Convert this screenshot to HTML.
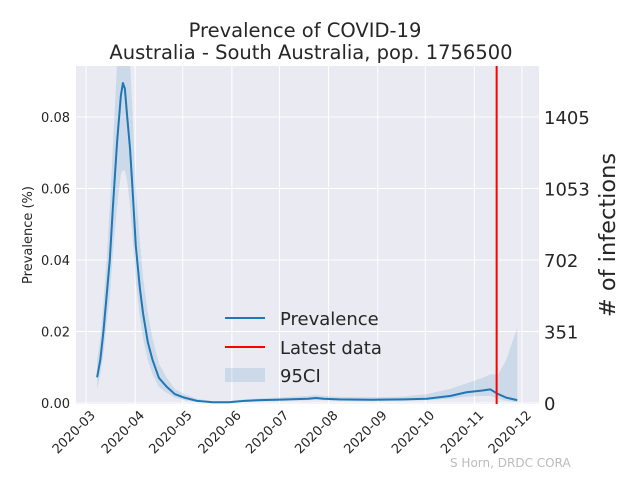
<!DOCTYPE html>
<html><head><meta charset="utf-8"><style>
body{margin:0;background:#fff}
svg{display:block;font-family:"DejaVu Sans","Liberation Sans",sans-serif}
</style></head><body>
<svg id="chart" width="640" height="480">
<text x="305" y="37" font-size="19.5" text-anchor="middle" fill="#262626">Prevalence of COVID-19</text>
<text x="311" y="59" font-size="19.5" text-anchor="middle" fill="#262626">Australia - South Australia, pop. 1756500</text>
<rect x="76" y="66" width="463" height="338" fill="#eaeaf2"/>
<g id="grid"></g>
<g id="band"></g>
<g id="line"></g>
<g id="axes"></g>
<text transform="translate(32,235) rotate(-90)" font-size="13" text-anchor="middle" fill="#262626">Prevalence (%)</text>
<text transform="translate(615,235) rotate(-90)" font-size="22.5" text-anchor="middle" fill="#262626"># of infections</text>
<g>
<line x1="225" y1="318" x2="265" y2="318" stroke="#1f77b4" stroke-width="2"/>
<text x="280" y="325" font-size="18" fill="#262626">Prevalence</text>
<line x1="225" y1="347" x2="265" y2="347" stroke="#ff0000" stroke-width="2"/>
<text x="280" y="354" font-size="18" fill="#262626">Latest data</text>
<rect x="225" y="368" width="40" height="14" fill="#1f77b4" fill-opacity="0.15"/>
<text x="280" y="382" font-size="18" fill="#262626">95CI</text>
</g>
<text x="450" y="467" font-size="12" fill="#bbbbbb">S Horn, DRDC CORA</text>
</svg>
<script>
const days=[7,9,11,13,15,17,19.6,22,23.3,24.5,26,27.8,30,31.4,34,36,39,42,46,51,56,62,70,80,90,100,110,120,140,145,150,160,180,200,215,230,240,250,255,260,265,272];
const prev=[0.0072,0.012,0.02,0.03,0.04,0.055,0.073,0.086,0.0895,0.088,0.08,0.071,0.055,0.044,0.032,0.025,0.017,0.012,0.007,0.0045,0.0025,0.0015,0.0006,0.0002,0.0002,0.0006,0.0008,0.0009,0.0012,0.0014,0.0012,0.001,0.0009,0.001,0.0012,0.002,0.003,0.0035,0.0038,0.0025,0.0015,0.0008];
const lower=[0.004,0.008,0.014,0.022,0.03,0.042,0.055,0.064,0.065,0.065,0.062,0.055,0.043,0.034,0.024,0.018,0.012,0.008,0.0045,0.0028,0.0015,0.0008,0.0003,0.0001,0.0001,0.0003,0.0004,0.0005,0.0008,0.0009,0.0008,0.0006,0.0005,0.0006,0.0008,0.0012,0.0018,0.002,0.002,0.0012,0.0006,0.0002];
const upper=[0.012,0.018,0.028,0.04,0.055,0.072,0.095,0.11,0.11,0.11,0.105,0.095,0.075,0.06,0.045,0.035,0.025,0.018,0.011,0.007,0.004,0.0025,0.0012,0.0005,0.0005,0.001,0.0013,0.0015,0.002,0.0022,0.002,0.0017,0.0016,0.0018,0.0025,0.004,0.0055,0.007,0.008,0.008,0.012,0.021];
const xTickLabels=["2020-03","2020-04","2020-05","2020-06","2020-07","2020-08","2020-09","2020-10","2020-11","2020-12"];
const xTickDays=[0,31,61,92,122,153,184,214,245,275];
const yTicks=[0,0.02,0.04,0.06,0.08];
const y2Ticks=[0,351,702,1053,1405];
const latestDay=259;
const pop=1756500;
const NS="http://www.w3.org/2000/svg";
const X=d=>86+d*436/275;
const Y=v=>403-v*(286/0.08);
const Y2=n=>Y(n/pop*100);
function mk(tag,attrs,parent){const e=document.createElementNS(NS,tag);for(const k in attrs)e.setAttribute(k,attrs[k]);document.getElementById(parent).appendChild(e);return e;}
xTickDays.forEach((d,i)=>{
 const g=mk('line',{x1:X(d),x2:X(d),y1:66,y2:404,stroke:'#fff','stroke-width':1},'grid');
 
 
 const t=mk('text',{transform:`translate(${X(d)+10},${416}) rotate(-45)`,'font-size':13,'text-anchor':'end',fill:'#262626'},'axes');
 t.textContent=xTickLabels[i];
 
 
});
yTicks.forEach(v=>{
 const g=mk('line',{x1:76,x2:539,y1:Y(v),y2:Y(v),stroke:'#fff','stroke-width':1},'grid');
 
 
 const t=mk('text',{x:70,y:Y(v)+5,'font-size':13,'text-anchor':'end',fill:'#262626'},'axes');
 t.textContent=v===0?'0.00':v.toFixed(2);
 
 
});
y2Ticks.forEach(n=>{
 const t=mk('text',{x:544,y:Y2(n)+7,'font-size':18,fill:'#262626'},'axes');
 t.textContent=n;
 
 
});
const clip=mk('clipPath',{id:'pc'},'band');mk('rect',{x:76,y:66,width:463,height:338},'band');
const cr=document.getElementById('band').lastChild;clip.appendChild(cr);
let dp=days.map((d,i)=>`${X(d)},${Y(upper[i])}`).join(' L')+' L'+days.map((d,i)=>`${X(d)},${Y(lower[i])}`).reverse().join(' L');
const b=mk('path',{d:'M'+dp+'Z',fill:'#1f77b4','fill-opacity':0.15,'clip-path':'url(#pc)'},'band');


const l=mk('polyline',{points:days.map((d,i)=>`${X(d)},${Y(prev[i])}`).join(' '),fill:'none',stroke:'#1f77b4','stroke-width':2,'stroke-linejoin':'round'},'line');


const r=mk('line',{x1:X(latestDay),x2:X(latestDay),y1:66,y2:404,stroke:'#ff0000','stroke-width':2},'line');


</script>
</body></html>
